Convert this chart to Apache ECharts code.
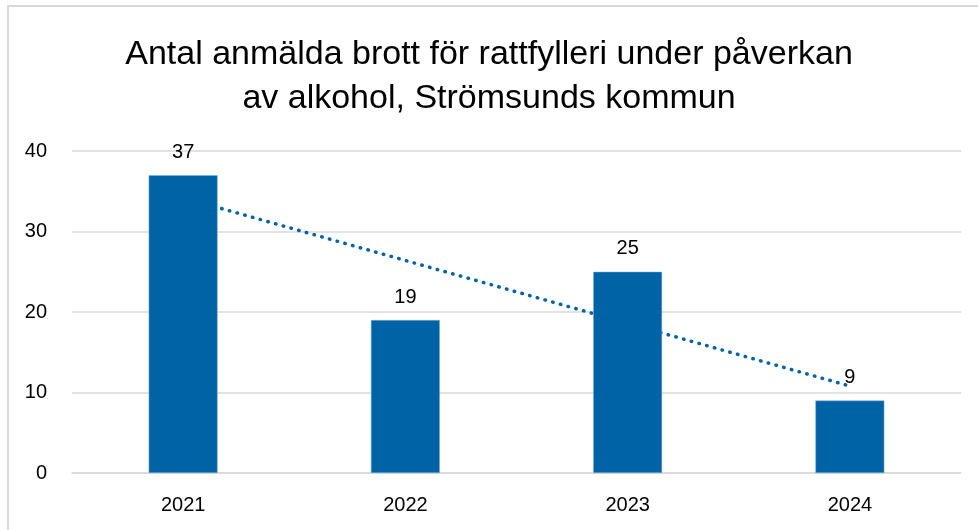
<!DOCTYPE html>
<html>
<head>
<meta charset="utf-8">
<script src="https://cdn.jsdelivr.net/npm/echarts@6/dist/echarts.min.js"></script>
<style>
  html, body { margin: 0; padding: 0; background: #fff; }
  .frame {
    position: absolute; left: 7px; top: 5px; width: 971px; height: 525px;
    border-left: 2px solid #d9d9d9; border-top: 2px solid #d9d9d9;
  }
  #chart { position: absolute; left: 0; top: 0; width: 978px; height: 530px; }
</style>
</head>
<body>
<div class="frame"></div>
<div id="chart"></div>
<script>
// kategorier och värden
const years = ["2021", "2022", "2023", "2024"];
const brott = [37, 19, 25, 9];
// trendlinje
const trend = [34.2, 26.4, 18.6, 10.8];
const yTicks = { min: 0, max: 40, interval: 10 };

const chart = echarts.init(document.getElementById("chart"));
const blue = "#0063a6";

const option = {
  animation: false,
  title: {
    text: "Antal anmälda brott för rattfylleri under påverkan\nav alkohol, Strömsunds kommun",
    left: "center",
    top: 28,
    textStyle: {
      fontFamily: "Liberation Sans",
      fontWeight: "normal",
      fontSize: 34,
      lineHeight: 44,
      color: "#000",
    },
  },
  grid: { left: 72, right: 17, top: 151, bottom: 57 },
  xAxis: {
    type: "category",
    data: years,
    axisLine: { lineStyle: { color: "#d9d9d9", width: 1.5 } },
    axisTick: { show: false },
    axisLabel: { color: "#000", fontSize: 20, margin: 22, fontFamily: "Liberation Sans" },
  },
  yAxis: {
    type: "value",
    min: yTicks.min,
    max: yTicks.max,
    interval: yTicks.interval,
    axisLine: { show: false },
    axisTick: { show: false },
    splitLine: { lineStyle: { color: "#d9d9d9", width: 1.5 } },
    axisLabel: { color: "#000", fontSize: 20, margin: 25, fontFamily: "Liberation Sans" },
  },
  series: [
    {
      name: "Trend",
      type: "line",
      data: trend,
      z: 1,
      symbol: "none",
      silent: true,
      lineStyle: { color: blue, width: 3.5, type: [0.5, 7.5], cap: "round" },
    },
    {
      name: "Antal",
      type: "bar",
      data: brott,
      z: 2,
      barWidth: "31%",
      itemStyle: { color: blue, borderColor: "#7fb0d6", borderWidth: 0.5 },
      label: {
        show: true,
        position: "top",
        distance: 13,
        color: "#000",
        fontSize: 20,
        fontFamily: "Liberation Sans",
      },
    },
  ],
};
chart.setOption(option);
</script>
</body>
</html>
